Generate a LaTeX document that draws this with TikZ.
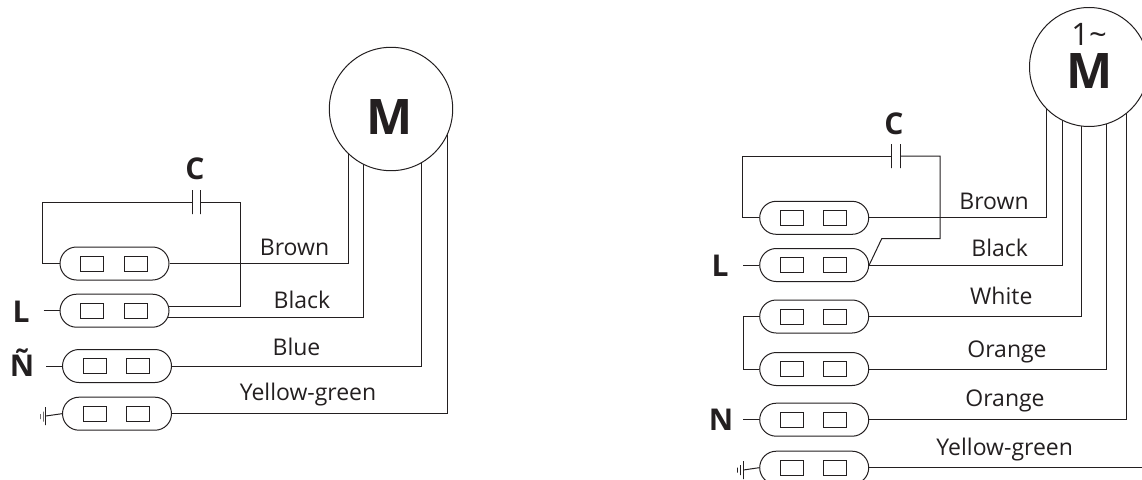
\documentclass[tikz,border=0pt]{standalone}
\usepackage{fontspec}
\setmainfont{Open Sans}
\usetikzlibrary{shapes.misc}
\definecolor{ink}{HTML}{231F20}
\begin{document}
\begin{tikzpicture}[x=1pt, y=-1pt, line width=1pt, draw=ink, text=ink]
    \tikzstyle{terminal} = [rounded rectangle, draw, minimum width=109pt, minimum height=33pt, inner sep=0pt]
    \tikzstyle{contact} = [rectangle, draw, minimum width=23pt, minimum height=15pt, inner sep=0pt]
    \tikzstyle{motor} = [circle, draw, fill=white, inner sep=0pt]
    \tikzstyle{plate} = [rectangle, draw, minimum width=0pt, inner sep=0pt]
    \tikzstyle{wirename} = [anchor=base, font=\fontsize{23}{23}\selectfont, inner sep=0pt]
    \tikzstyle{pinname} = [anchor=base, font=\fontsize{30}{30}\selectfont\bfseries, inner sep=0pt]
    \useasboundingbox (0,0) rectangle (1142,479);
    \clip (0,0) rectangle (1142,479);

    % Terminals
    \foreach \t/\x/\y in {lta/114.5/263.5, ltb/114.5/310.7, ltc/117/366, ltd/117/413.7,
        rta/814.2/217.8, rtb/814.2/265, rtc/814.2/316.5, rtd/814.2/369, rte/814.2/419.7, rtf/814.2/467.7}{
        \node [terminal] (\t) at (\x,\y) {};
        \node [contact] (\t l) at (\x-22.5,\y) {};
        \node [contact] (\t r) at (\x+21.2,\y) {};
    }

    % Capacitors
    \node [plate, minimum height=24pt] (lcapa) at (192.3,202) {};
    \node [plate, minimum height=24pt] (lcapb) at (200.3,202) {};
    \node [plate, minimum height=24pt] (rcapa) at (891.7,156) {};
    \node [plate, minimum height=24pt] (rcapb) at (900.3,156) {};

    % Left connections
    \draw (lta.west) -- ++(-17,0) |- (lcapa.west);
    \draw (lcapb.east) -- (240,202) |- ([shift={(-0.5,-4.7)}]ltb.east);
    \coordinate (lstubl) at (43.7,310.7);
    \coordinate (lstubn) at (46,366);
    \draw (lstubl) -- (ltb.west);
    \draw (lstubn) -- (ltc.west);

    % Right connections
    \draw (rta.west) -- ++(-17,0) |- (rcapa.west);
    \coordinate (rbend) at (881.7,238.7);
    \draw (rcapb.east) -- (940,156) |- (rbend) -- (rtb.east);
    \draw (rtc.west) -- ++(-16.2,0) |- (rtd.west);
    \coordinate (rstubl) at (743.3,265);
    \coordinate (rstubn) at (743.3,419.7);
    \draw (rstubl) -- (rtb.west);
    \draw (rstubn) -- (rte.west);

    % Earth symbols
    \node [plate, minimum height=18pt] (lgnda) at (45.7,416) {};
    \node [plate, minimum height=10pt] (lgndb) at (43,416.5) {};
    \node [plate, minimum height=5pt] (lgndc) at (40,416.5) {};
    \draw (lgnda) -- (ltd.west);
    \node [plate, minimum height=18pt] (rgnda) at (743.3,470) {};
    \node [plate, minimum height=10pt] (rgndb) at (740,470) {};
    \node [plate, minimum height=5pt] (rgndc) at (737,470) {};
    \draw (rgnda) -- (rtf.west);

    % Motor leads
    \coordinate (ltopa) at (348.3,109);
    \coordinate (ltopb) at (363.3,109);
    \coordinate (ltopc) at (421.7,109);
    \coordinate (ltopd) at (447.3,109);
    \draw (lta.east) -| (ltopa);
    \draw ([shift={(-1.4,6.6)}]ltb.east) -| (ltopb);
    \draw (ltc.east) -| (ltopc);
    \draw (ltd.east) -| (ltopd);
    \coordinate (rtopa) at (1046.7,67);
    \coordinate (rtopb) at (1062.7,67);
    \coordinate (rtopc) at (1081.3,67);
    \coordinate (rtopd) at (1106.7,67);
    \coordinate (rtope) at (1126.7,67);
    \coordinate (rend) at (1142,467.7);
    \draw (rta.east) -| (rtopa);
    \draw (rtb.east) -| (rtopb);
    \draw (rtc.east) -| (rtopc);
    \draw (rtd.east) -| (rtopd);
    \draw (rte.east) -| (rtope);
    \draw (rtf.east) -- (rend);

    % Motors
    \node [motor, minimum size=123.4pt] (lmotor) at (391,109) {};
    \node [motor, minimum size=119pt] (rmotor) at (1089,67) {};
    \node [anchor=base, font=\fontsize{49}{49}\selectfont\bfseries, inner sep=0pt] (lmname) at (390,134) {M};
    \node [anchor=base, font=\fontsize{49}{49}\selectfont\bfseries, inner sep=0pt] (rmname) at (1089.5,88.3) {M};
    \node [anchor=base, font=\fontsize{31}{31}\selectfont, inner sep=0pt] (rmphase) at (1089,45) {1\textasciitilde};

    % Pin names
    \node [pinname] (cleft) at (195,179) {C};
    \node [pinname] (lleft) at (21,322) {L};
    \node [pinname] (nleft) at (22,376) {Ñ};
    \node [pinname] (cright) at (894,134) {C};
    \node [pinname] (lright) at (720,276) {L};
    \node [pinname] (nright) at (721,430) {N};

    % Wire colours
    \node [wirename] (lbrown) at (294.5,255) {Brown};
    \node [wirename] (lblack) at (302,308.3) {Black};
    \node [wirename] (lblue) at (296.5,355) {Blue};
    \node [wirename] (lyellow) at (308,400.7) {Yellow-green};
    \node [wirename] (rbrown) at (994,209.3) {Brown};
    \node [wirename] (rblack) at (999.7,256.7) {Black};
    \node [wirename] (rwhite) at (1001.3,304) {White};
    \node [wirename] (rorangea) at (1007,357.3) {Orange};
    \node [wirename] (rorangeb) at (1005,406.7) {Orange};
    \node [wirename] (ryellow) at (1004.7,455) {Yellow-green};
\end{tikzpicture}
\end{document}
